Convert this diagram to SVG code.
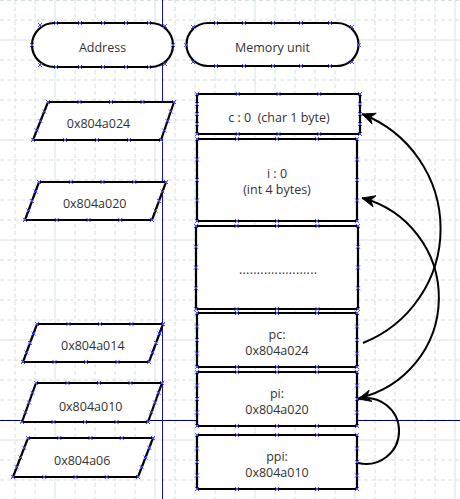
<svg xmlns="http://www.w3.org/2000/svg" width="460" height="499" viewBox="0 0 460 499">
<style>
.gd{fill:none;stroke:#d3dfdd;stroke-width:1;stroke-dasharray:4 3}
.gs{fill:none;stroke:#d9e4e2;stroke-width:1}
.sh{fill:#fff;stroke:#000;stroke-width:2.2;stroke-linejoin:miter}
.mk{marker-start:url(#cx);marker-mid:url(#cx);marker-end:url(#cx)}
.cp{fill:none;stroke:none}
.t{font-family:"Open Sans","Noto Sans","DejaVu Sans",sans-serif;font-size:12.5px;fill:#333;text-anchor:middle;white-space:pre}
.cn{fill:none;stroke:#000;stroke-width:2;marker-end:url(#ah)}
</style>
<defs>
<marker id="cx" markerUnits="userSpaceOnUse" markerWidth="6" markerHeight="6" refX="2.25" refY="2.25" orient="0" overflow="visible">
<path d="M0.2,0.2 L4.3,4.3 M4.3,0.2 L0.2,4.3" fill="none" stroke="#4d4dff" stroke-width="1"/>
</marker>
<marker id="ah" markerUnits="userSpaceOnUse" markerWidth="16" markerHeight="16" refX="13" refY="7" orient="auto" overflow="visible">
<path d="M13,7 L0,1.2 L4,7 L0,12.8 Z" fill="#000" stroke="#000" stroke-width="0.8" stroke-linejoin="miter"/>
</marker>
</defs>
<rect width="460" height="499" fill="#fff"/>
<g id="grid">
<path class="gd" d="M15,0V499M35,0V499M75,0V499M95,0V499M115,0V499M135,0V499M175,0V499M195,0V499M215,0V499M235,0V499M275,0V499M295,0V499M315,0V499M335,0V499M375,0V499M395,0V499M415,0V499M435,0V499M0,0.5H460M0,20H460M0,60H460M0,80H460M0,100H460M0,120H460M0,160H460M0,180H460M0,200H460M0,220H460M0,260H460M0,280H460M0,300H460M0,320H460M0,360H460M0,380H460M0,400H460M0,420H460M0,460H460M0,480H460"/>
<path class="gs" d="M55,0V499M155,0V499M255,0V499M355,0V499M455,0V499M0,40H460M0,140H460M0,240H460M0,340H460M0,440H460"/>
</g>
<g id="guides">
<path d="M162.5,0V499" stroke="#1414b4" stroke-width="1" fill="none"/>
<path d="M0,420.5H460" stroke="#000078" stroke-width="1" fill="none"/>
</g>
<g id="addr-header">
<path class="sh" d="M54,23 H151 A22,22 0 0 1 151,67 H54 A22,22 0 0 1 54,23 Z"/>
<polyline class="cp mk" points="40,25 56,23 80,23 103,23 126,23 149,23 165,26 173,45 165,64 149,67 126,67 103,67 80,67 56,67 40,65 32,45"/>
<text class="t" x="102.5" y="52">Address</text>
</g>
<g id="mem-header">
<path class="sh" d="M208,23 H337 A21.5,21.5 0 0 1 337,66 H208 A21.5,21.5 0 0 1 208,23 Z"/>
<polyline class="cp mk" points="193,27 216,23 244,23 273,23 301,23 330,23 352,27 359,45 352,62 330,66 301,66 273,66 244,66 216,66 193,62 186,45"/>
<text class="t" x="272.5" y="52">Memory unit</text>
</g>
<g id="addr-024">
<polygon class="sh mk" points="48,102 79.5,102 111,102 142.5,102 174,102 170.75,111.5 167.5,121 164.25,130.5 161,140 129,140 97,140 65,140 33,140 36.75,130.5 40.5,121 44.25,111.5"/>
<text class="t" x="98.5" y="128">0x804a024</text>
</g>
<g id="addr-020">
<polygon class="sh mk" points="39,182 70.75,182 102.5,182 134.25,182 166,182 162.5,191.5 159,201 155.5,210.5 152,220 120.25,220 88.5,220 56.75,220 25,220 28.5,210.5 32,201 35.5,191.5"/>
<text class="t" x="94.7" y="208">0x804a020</text>
</g>
<g id="addr-014">
<polygon class="sh mk" points="37,324 68.5,324 100,324 131.5,324 163,324 159.5,333.5 156,343 152.5,352.5 149,362 117.5,362 86,362 54.5,362 23,362 26.5,352.5 30,343 33.5,333.5"/>
<text class="t" x="92.8" y="350">0x804a014</text>
</g>
<g id="addr-010">
<polygon class="sh mk" points="36,383 67.5,383 99,383 130.5,383 162,383 158.5,392.75 155,402.5 151.5,412.25 148,422 116.5,422 85,422 53.5,422 22,422 25.5,412.25 29,402.5 32.5,392.75"/>
<text class="t" x="90.7" y="410.5">0x804a010</text>
</g>
<g id="addr-06">
<polygon class="sh mk" points="28,438 59.25,438 90.5,438 121.75,438 153,438 149.25,447.75 145.5,457.5 141.75,467.25 138,477 106.75,477 75.5,477 44.25,477 13,477 16.75,467.25 20.5,457.5 24.25,447.75"/>
<text class="t" x="82.2" y="465">0x804a06</text>
</g>
<g id="mem-c">
<polygon class="sh mk" points="197,94 237.75,94 278.5,94 319.25,94 360,94 360,104 360,114 360,124 360,134 319.25,134 278.5,134 237.75,134 197,134 197,124 197,114 197,104"/>
<text class="t" x="279" y="122">c : 0  (char 1 byte)</text>
</g>
<g id="mem-i">
<polygon class="sh mk" points="197,139 237,139 277,139 317,139 357,139 357,159.5 357,180 357,200.5 357,221 317,221 277,221 237,221 197,221 197,200.5 197,180 197,159.5"/>
<text class="t" x="277" y="177.5">i : 0</text>
<text class="t" x="277" y="193.5">(int 4 bytes)</text>
</g>
<g id="mem-dots">
<polygon class="sh mk" points="196,226 236.5,226 277,226 317.5,226 358,226 358,246.75 358,267.5 358,288.25 358,309 317.5,309 277,309 236.5,309 196,309 196,288.25 196,267.5 196,246.75"/>
<text class="t" x="239" y="274" style="text-anchor:start" textLength="78" lengthAdjust="spacing">......................</text>
</g>
<g id="mem-pc">
<polygon class="sh mk" points="197,313 237,313 277,313 317,313 357,313 357,326.5 357,340 357,353.5 357,367 317,367 277,367 237,367 197,367 197,353.5 197,340 197,326.5"/>
<text class="t" x="277" y="338.5">pc:</text>
<text class="t" x="277" y="354.5">0x804a024</text>
</g>
<g id="mem-pi">
<polygon class="sh mk" points="197,372 237,372 277,372 317,372 357,372 357,385.5 357,399 357,412.5 357,426 317,426 277,426 237,426 197,426 197,412.5 197,399 197,385.5"/>
<text class="t" x="277" y="397.5">pi:</text>
<text class="t" x="277" y="413.5">0x804a020</text>
</g>
<g id="mem-ppi">
<polygon class="sh mk" points="197,435 237,435 277,435 317,435 357,435 357,448.5 357,462 357,475.5 357,489 317,489 277,489 237,489 197,489 197,475.5 197,462 197,448.5"/>
<text class="t" x="277" y="460.5">ppi:</text>
<text class="t" x="277" y="476.5">0x804a010</text>
</g>
<g id="connectors">
<path class="cn" d="M363,343 A123,123 0 0 0 362,114"/>
<path class="cn" d="M359,398 A103,103 0 0 0 362,198"/>
<path class="cn" d="M358,463 A33,33 0 1 0 358,399"/>
</g>
</svg>
